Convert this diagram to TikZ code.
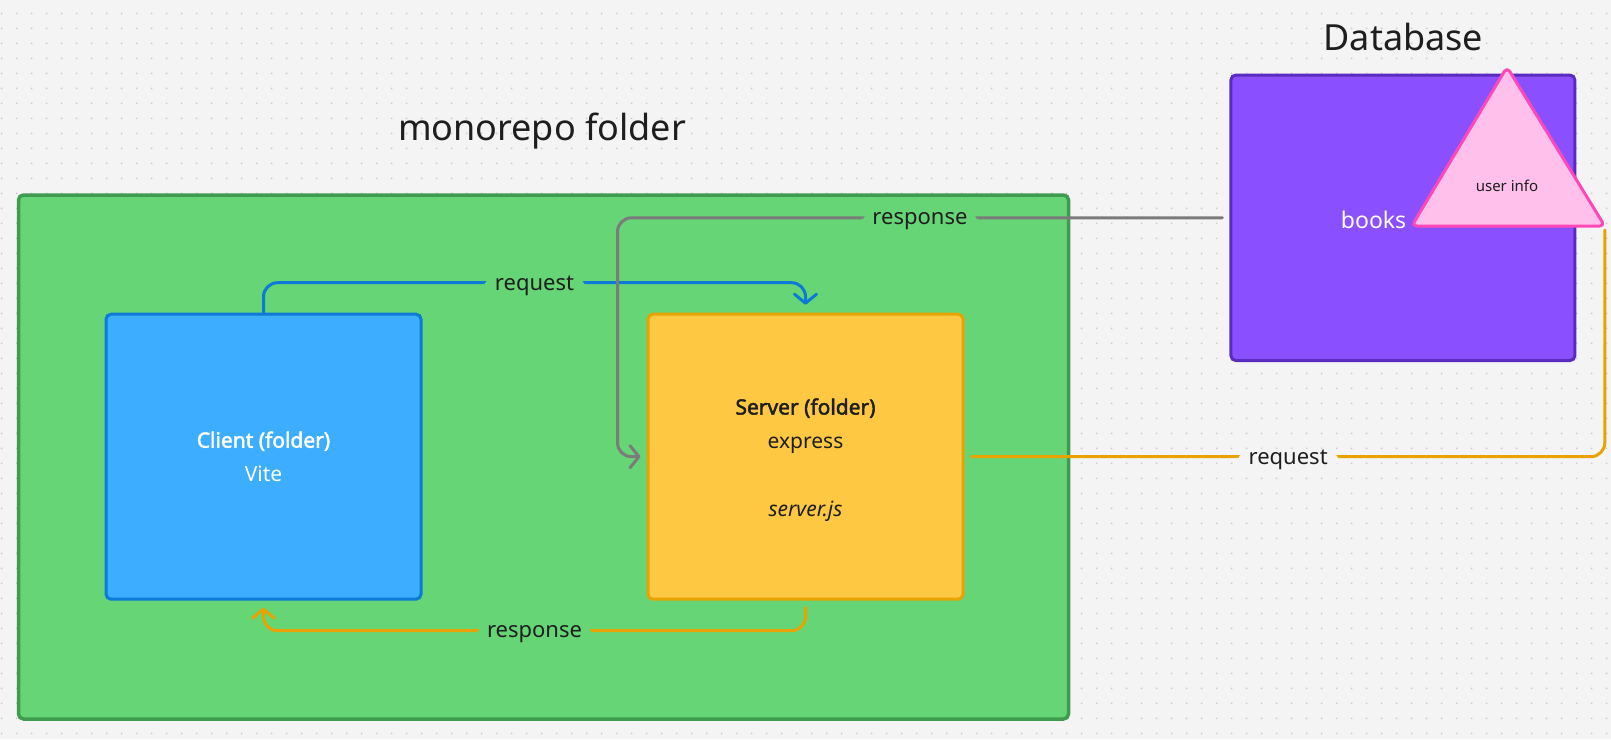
\documentclass[tikz,border=0pt]{standalone}
\usepackage{fontspec}
\setmainfont{Noto Sans}[BoldFont={Noto Sans},BoldFeatures={FakeBold=2.2}]
\usetikzlibrary{arrows.meta,calc}
\definecolor{bgc}{HTML}{F4F4F4}
\definecolor{dotc}{HTML}{CACACA}
\definecolor{greenf}{HTML}{66D575}
\definecolor{greend}{HTML}{3F9B4E}
\definecolor{bluef}{HTML}{3DADFF}
\definecolor{blued}{HTML}{0C7AD6}
\definecolor{yellf}{HTML}{FFC843}
\definecolor{yelld}{HTML}{E8A300}
\definecolor{purpf}{HTML}{8A4FFF}
\definecolor{purpd}{HTML}{5A2BC0}
\definecolor{pinkf}{HTML}{FFC0EB}
\definecolor{pinkd}{HTML}{FF48B8}
\definecolor{grayc}{HTML}{7B7B7B}
\definecolor{txt}{HTML}{1E1E1E}
\begin{document}
\begin{tikzpicture}[x=1pt,y=-1pt,
  boxstyle/.style={rectangle, rounded corners=5pt, line width=3pt, inner sep=0pt, align=center},
  boxtext/.style={font=\fontsize{21}{34}\selectfont},
  conn/.style={line width=3pt, rounded corners=14pt, line cap=round},
  tipstyle/.style={-{Straight Barb[length=9pt,width=22pt,line cap=round,line join=round]}},
  lbl/.style={inner xsep=11pt, inner ysep=1pt, text=txt, font=\fontsize{22}{26}\selectfont, yshift=-3pt},
  title/.style={text=txt, font=\fontsize{36}{40}\selectfont, inner sep=0pt}
]
\useasboundingbox (0,0) rectangle (1611,739);
\fill[bgc] (0,0) rectangle (1611,739);
\foreach \i in {0,...,107}{
  \pgfmathsetmacro{\xx}{0.8+15*\i}
  \fill[dotc] \foreach \j in {0,...,48}{(\xx,12.6+15*\j) rectangle ++(1.5,1.5)};
}

% container
\node[boxstyle, fill=greenf, draw=greend, line width=3.5pt, minimum width=1050pt, minimum height=524pt] (mono) at (543.5,457) {};
\node[title] (monotitle) at (542,131) {monorepo folder};

% client and server
\node[boxstyle, boxtext, fill=bluef, draw=blued, text=white, minimum width=315pt, minimum height=285pt] (client) at (263.5,456.7) {\textbf{Client (folder)}\\Vite};
\node[boxstyle, fill=yellf, draw=yelld, minimum width=315pt, minimum height=285pt] (server) at (805.5,456.7) {};
\node[boxtext, text=txt, align=center, inner sep=0pt] (servertext) at (805.5,460) {\textbf{Server (folder)}\\express\\[34pt]\textit{server.js}};

% database
\node[boxstyle, fill=purpf, draw=purpd, minimum width=344pt, minimum height=285.6pt] (db) at (1402.9,217.8) {};
\node[title] (dbtitle) at (1403.4,37) {Database};
\node[text=white, font=\fontsize{23}{26}\selectfont, inner sep=0pt] (books) at (1373.6,220) {books};

% connectors
\draw[conn, blued, tipstyle] (client.north) -- ++(0,-30) -| ([yshift=8pt]server.north)
  node[lbl, fill=greenf, pos=0.25] (lreq1) {request};
\draw[conn, yelld, tipstyle] ([yshift=-7pt]server.south) -- ++(0,23) -| ([yshift=-7pt]client.south)
  node[lbl, fill=greenf, pos=0.25] (lres1) {response};
\coordinate (gcorner) at ($(server.west)+(-29,0)$);
\draw[conn, grayc, tipstyle] ([xshift=-7pt]db.west) -| (gcorner)
  node[lbl, fill=greenf, pos=0.25] (lres2) {response}
  -- ([xshift=-6pt]server.west);

% triangle
\coordinate (tA) at (1507,67);
\coordinate (tL) at (1411.7,226);
\coordinate (tR) at (1604.8,226);
\draw[conn, yelld] ([xshift=7pt]server.east) -| ([yshift=-4pt]tR)
  node[lbl, fill=bgc, pos=0.25] (lreq2) {request};
\filldraw[fill=pinkf, draw=pinkd, line width=3pt, rounded corners=5pt, line join=round] (tA) -- (tL) -- (tR) -- cycle;
\node[text=txt, font=\fontsize{15}{18}\selectfont, inner sep=0pt] (userinfo) at (1507,186) {user info};
\end{tikzpicture}
\end{document}
